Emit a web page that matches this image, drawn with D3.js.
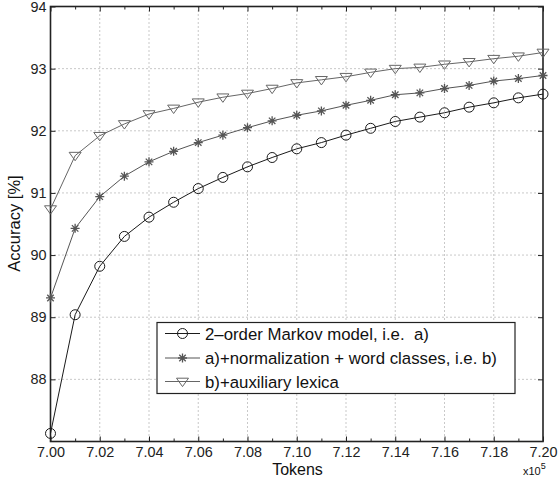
<!DOCTYPE html>
<html><head><meta charset="utf-8">
<script src="https://cdn.jsdelivr.net/npm/d3@7"></script>
<style>body{margin:0;background:#fff}svg{display:block}text{font-family:"Liberation Sans",Arial,Helvetica,sans-serif}</style>
</head><body>
<svg id="c" width="558" height="478"></svg>
<script>
const tokens = [7.00,7.01,7.02,7.03,7.04,7.05,7.06,7.07,7.08,7.09,7.10,7.11,7.12,7.13,7.14,7.15,7.16,7.17,7.18,7.19,7.20];
const markov = [87.13,89.04,89.82,90.30,90.61,90.85,91.07,91.25,91.42,91.57,91.71,91.81,91.93,92.04,92.15,92.22,92.29,92.38,92.45,92.53,92.59];
const normWord = [89.31,90.43,90.94,91.27,91.50,91.67,91.81,91.93,92.05,92.16,92.25,92.32,92.41,92.49,92.58,92.61,92.68,92.73,92.80,92.84,92.89];
const lexica = [90.74,91.60,91.92,92.11,92.27,92.36,92.46,92.54,92.60,92.68,92.77,92.82,92.87,92.94,93.00,93.02,93.07,93.11,93.16,93.20,93.26];
const seriesNames = ["2\u2013order Markov model, i.e.  a)","a)+normalization + word classes, i.e. b)","b)+auxiliary lexica"];
const xTicks = [7.00,7.02,7.04,7.06,7.08,7.10,7.12,7.14,7.16,7.18,7.20];
const xMinor = [7.01,7.03,7.05,7.07,7.09,7.11,7.13,7.15,7.17,7.19];
const yTicks = [88,89,90,91,92,93,94];

const svg = d3.select("#c");
const L=50.5, R=543, T=6.5, B=441.5;
const x = d3.scaleLinear().domain([7.00,7.20]).range([L,R]);
const y = d3.scaleLinear().domain([87,94]).range([B,T]);
const fs = 14.4;

// grid
const g = svg.append("g");
g.selectAll(".gx").data(xTicks.slice(1,-1)).join("line")
  .attr("x1",d=>x(d)).attr("x2",d=>x(d)).attr("y1",T).attr("y2",B)
  .attr("stroke","#777").attr("stroke-width",0.8).attr("stroke-dasharray","1,3");
g.selectAll(".gy").data(yTicks.slice(0,-1)).join("line")
  .attr("y1",d=>y(d)).attr("y2",d=>y(d)).attr("x1",L).attr("x2",R)
  .attr("stroke","#777").attr("stroke-width",0.8).attr("stroke-dasharray","1,3");

// axes via d3
const tl = 5;
svg.append("g").attr("transform",`translate(0,${B})`)
  .call(d3.axisBottom(x).tickValues(xTicks).tickFormat(d3.format(".2f")).tickSize(-tl).tickPadding(5))
  .call(a=>{a.select(".domain").remove();a.selectAll("text").attr("font-size",fs).attr("fill","#222");a.selectAll("line").attr("stroke","#222");});
svg.append("g").attr("transform",`translate(0,${B})`)
  .call(d3.axisBottom(x).tickValues(xMinor).tickFormat("").tickSize(-3))
  .call(a=>{a.select(".domain").remove();a.selectAll("line").attr("stroke","#222");});
svg.append("g").attr("transform",`translate(0,${T})`)
  .call(d3.axisTop(x).tickValues(xTicks).tickFormat("").tickSize(-tl))
  .call(a=>{a.select(".domain").remove();a.selectAll("line").attr("stroke","#222");});
svg.append("g").attr("transform",`translate(0,${T})`)
  .call(d3.axisTop(x).tickValues(xMinor).tickFormat("").tickSize(-3))
  .call(a=>{a.select(".domain").remove();a.selectAll("line").attr("stroke","#222");});
svg.append("g").attr("transform",`translate(${L},0)`)
  .call(d3.axisLeft(y).tickValues(yTicks).tickFormat(d3.format("d")).tickSize(-tl).tickPadding(4))
  .call(a=>{a.select(".domain").remove();a.selectAll("text").attr("font-size",fs).attr("fill","#222");a.selectAll("line").attr("stroke","#222");});
svg.append("g").attr("transform",`translate(${R},0)`)
  .call(d3.axisRight(y).tickValues(yTicks).tickFormat("").tickSize(-tl))
  .call(a=>{a.select(".domain").remove();a.selectAll("line").attr("stroke","#222");});

svg.append("rect").attr("x",L).attr("y",T).attr("width",R-L).attr("height",B-T)
  .attr("fill","none").attr("stroke","#222").attr("stroke-width",1.6);

// markers
function circle(sel,c){sel.append("circle").attr("r",5).attr("fill","none").attr("stroke",c).attr("stroke-width",1);}
function star(sel,c){
  const s=4.5, d=s*0.72;
  const p=`M${-s},0L${s},0M0,${-s}L0,${s}M${-d},${-d}L${d},${d}M${-d},${d}L${d},${-d}`;
  sel.append("path").attr("d",p).attr("stroke",c).attr("stroke-width",1.3).attr("fill","none");
}
function tri(sel,c){
  const s=6;
  sel.append("path").attr("d",`M${-s},${-s*0.55}L${s},${-s*0.55}L0,${s*0.85}Z`).attr("fill","none").attr("stroke",c).attr("stroke-width",1);
}
const series = [
  {vals:markov,color:"#1a1a1a",mk:circle},
  {vals:normWord,color:"#555",mk:star},
  {vals:lexica,color:"#666",mk:tri}
];
const line = d3.line().x((d,i)=>x(tokens[i])).y(d=>y(d));
series.forEach(s=>{
  svg.append("path").datum(s.vals).attr("d",line).attr("fill","none").attr("stroke",s.color).attr("stroke-width",1);
  svg.append("g").selectAll("g").data(s.vals).join("g")
    .attr("transform",(d,i)=>`translate(${x(tokens[i])},${y(d)})`)
    .each(function(){s.mk(d3.select(this),s.color);});
});

// legend
const lg = svg.append("g");
lg.append("rect").attr("x",157).attr("y",322.5).attr("width",358).attr("height",71)
  .attr("fill","#fff").attr("stroke","#222").attr("stroke-width",1.2);
const rowsY=[333.5,358,381.5];
series.forEach((s,i)=>{
  const r = lg.append("g").attr("transform",`translate(0,${rowsY[i]})`);
  r.append("line").attr("x1",165).attr("x2",200).attr("stroke",s.color).attr("stroke-width",1);
  const m=r.append("g").attr("transform","translate(182.5,0)");
  s.mk(m,s.color);
  r.append("text").attr("x",205).attr("y",6).attr("font-size",16.8).attr("fill","#111")
    .style("white-space","pre").attr("xml:space","preserve").text(seriesNames[i]);
});

// labels
svg.append("text").attr("x",297.5).attr("y",475).attr("text-anchor","middle").attr("font-size",16).attr("fill","#111").text("Tokens");
svg.append("text").attr("transform",`translate(20,223.5) rotate(-90)`).attr("text-anchor","middle").attr("font-size",16.5).attr("fill","#111").text("Accuracy [%]");
const ex = svg.append("text").attr("x",523).attr("y",474.5).attr("font-size",11).attr("fill","#111");
ex.append("tspan").text("x10");
ex.append("tspan").attr("dy",-6).attr("font-size",9).text("5");
</script>
</body></html>
